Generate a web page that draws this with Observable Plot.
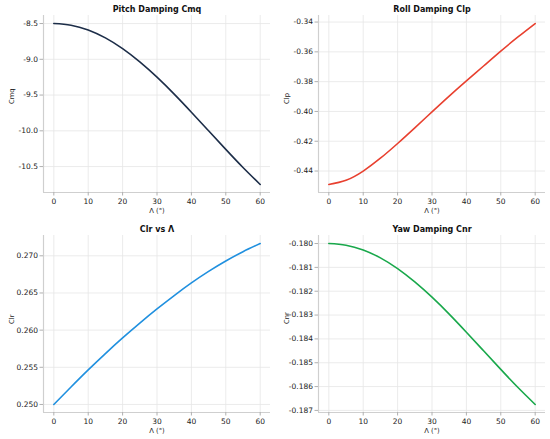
<!DOCTYPE html>
<html>
<head>
<meta charset="utf-8">
<script src="https://cdn.jsdelivr.net/npm/d3@7"></script>
<script src="https://cdn.jsdelivr.net/npm/@observablehq/plot@0.6"></script>
<style>
  html, body { margin: 0; padding: 0; background: #fff; }
  #wrap { position: relative; width: 550px; height: 439px; overflow: hidden; font-family: "DejaVu Sans", sans-serif; }
  .panel { position: absolute; }
  .panel svg { display: block; }
  g[aria-label="x-axis tick"] path, g[aria-label="y-axis tick"] path { stroke: #b0b0b0; }
</style>
</head>
<body>
<div id="wrap"></div>
<script>
const sweep = [0, 5, 10, 15, 20, 25, 30, 35, 40, 45, 50, 55, 60];
const cmq = [-8.500, -8.523, -8.590, -8.701, -8.851, -9.036, -9.250, -9.487, -9.740, -10.000, -10.260, -10.513, -10.750];
const clp = [-0.4490, -0.4462, -0.4400, -0.4314, -0.4215, -0.4110, -0.4003, -0.3897, -0.3795, -0.3695, -0.3595, -0.3500, -0.3410];
const clr = [0.25000, 0.25235, 0.25465, 0.25685, 0.25895, 0.26095, 0.26285, 0.26465, 0.26635, 0.26790, 0.26930, 0.27055, 0.27165];
const cnr = [-0.18000, -0.18007, -0.18027, -0.18060, -0.18105, -0.18161, -0.18225, -0.18296, -0.18372, -0.18450, -0.18528, -0.18604, -0.18675];

const xTicks = [0, 10, 20, 30, 40, 50, 60];
const panels = [
  {title: "Pitch Damping Cmq", ylabel: "Cmq", values: cmq, color: "#1c2d48",
   yTicks: [-8.5, -9.0, -9.5, -10.0, -10.5], digits: 1, left: 0, top: 0},
  {title: "Roll Damping Clp", ylabel: "Clp", values: clp, color: "#e8402f",
   yTicks: [-0.34, -0.36, -0.38, -0.40, -0.42, -0.44], digits: 2, left: 275, top: 0},
  {title: "Clr vs Λ", ylabel: "Clr", values: clr, color: "#2090df",
   yTicks: [0.250, 0.255, 0.260, 0.265, 0.270], digits: 3, left: 0, top: 220},
  {title: "Yaw Damping Cnr", ylabel: "Cnr", values: cnr, color: "#19a84b",
   yTicks: [-0.180, -0.181, -0.182, -0.183, -0.184, -0.185, -0.186, -0.187], digits: 3, left: 275, top: 220}
];

const xDomain = [-3, 63];
const wrap = document.getElementById("wrap");

for (const p of panels) {
  const data = sweep.map((s, i) => ({s, v: p.values[i]}));
  const lo = d3.min(p.values), hi = d3.max(p.values);
  const pad = (hi - lo) * 0.05;
  const yDomain = [lo - pad, hi + pad];
  const chart = Plot.plot({
    width: 275,
    height: 220,
    marginLeft: 43,
    marginRight: 5,
    marginTop: 15,
    marginBottom: 28,
    style: {fontFamily: "DejaVu Sans, sans-serif", fontSize: "7.5px", color: "#222", background: "#fff"},
    x: {domain: xDomain},
    y: {domain: yDomain},
    marks: [
      Plot.gridX(xTicks, {stroke: "#e6e6e6", strokeOpacity: 1, strokeWidth: 0.8}),
      Plot.gridY(p.yTicks, {stroke: "#e6e6e6", strokeOpacity: 1, strokeWidth: 0.8}),
      Plot.ruleX([xDomain[0]], {stroke: "#cfcfcf", strokeWidth: 1.2}),
      Plot.ruleY([yDomain[0]], {stroke: "#cfcfcf", strokeWidth: 1.2}),
      Plot.axisX(xTicks, {tickSize: 3.5, tickPadding: 2.5, label: null, tickFormat: d => String(d), fontSize: 7.5}),
      Plot.axisY(p.yTicks, {tickSize: 3.5, tickPadding: 2, label: null, tickFormat: d => d.toFixed(p.digits), fontSize: 7.5}),
      Plot.line(data, {x: "s", y: "v", stroke: p.color, strokeWidth: 1.6, curve: "natural"}),
      Plot.text([p.title], {frameAnchor: "top", dy: -9, fontWeight: "bold", fontSize: 8, fill: "#111"}),
      Plot.text(["Λ (°)"], {frameAnchor: "bottom", dy: 20, fontSize: 6.8, fill: "#222"}),
      Plot.text([p.ylabel], {frameAnchor: "left", dx: -32, rotate: -90, fontSize: 6.8, fill: "#222"})
    ]
  });
  const div = document.createElement("div");
  div.className = "panel";
  div.style.left = p.left + "px";
  div.style.top = p.top + "px";
  div.appendChild(chart);
  wrap.appendChild(div);
}
</script>
</body>
</html>
